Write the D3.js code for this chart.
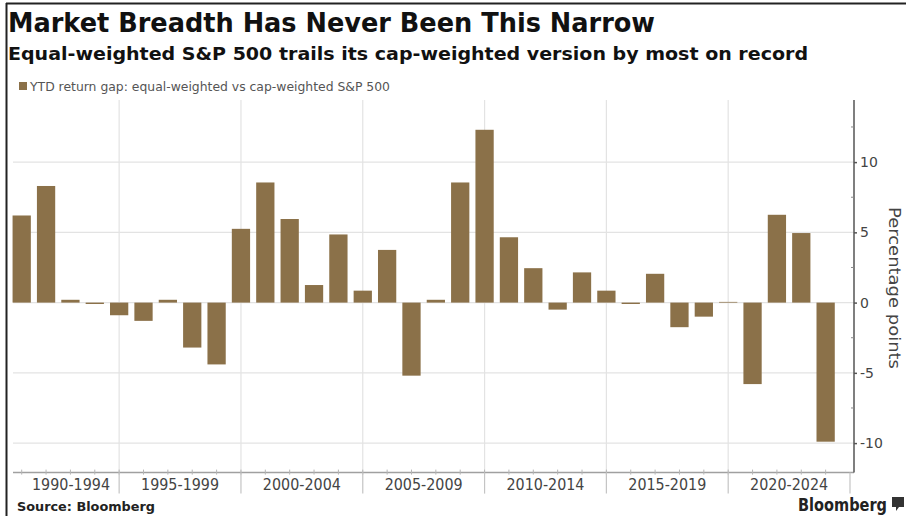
<!DOCTYPE html>
<html>
<head>
<meta charset="utf-8">
<script src="https://cdn.jsdelivr.net/npm/d3@7"></script>
<style>
  html, body { margin: 0; padding: 0; background: #fff; }
  svg { display: block; }
</style>
</head>
<body>
<svg id="chart" width="906" height="516"></svg>
<script>
// ---------- DATA ----------
const years = [1990, 1991, 1992, 1993, 1994, 1995, 1996, 1997, 1998, 1999,
               2000, 2001, 2002, 2003, 2004, 2005, 2006, 2007, 2008, 2009,
               2010, 2011, 2012, 2013, 2014, 2015, 2016, 2017, 2018, 2019,
               2020, 2021, 2022, 2023];
const gapValues = [6.2, 8.3, 0.2, -0.1, -0.9, -1.3, 0.2, -3.2, -4.4, 5.25,
                   8.55, 5.95, 1.25, 4.85, 0.85, 3.75, -5.2, 0.2, 8.55, 12.3,
                   4.65, 2.45, -0.5, 2.15, 0.85, -0.1, 2.05, -1.75, -1.0, 0.05,
                   -5.8, 6.25, 4.95, -9.9];
const groupLabels = ["1990-1994", "1995-1999", "2000-2004", "2005-2009",
                     "2010-2014", "2015-2019", "2020-2024"];
const groupStarts = [1990, 1995, 2000, 2005, 2010, 2015, 2020];
const groupEnds   = [1994, 1999, 2004, 2009, 2014, 2019, 2024];
const yTicks = [-10, -5, 0, 5, 10];
const yMinorTicks = [-7.5, -2.5, 2.5, 7.5, 12.5];

const titleText = "Market Breadth Has Never Been This Narrow";
const subtitleText = "Equal-weighted S&P 500 trails its cap-weighted version by most on record";
const legendText = "YTD return gap: equal-weighted vs cap-weighted S&P 500";
const yAxisTitle = "Percentage points";
const sourceText = "Source: Bloomberg";
const brandText = "Bloomberg";

// ---------- LAYOUT ----------
const barColor = "#8b7149";
const gridColor = "#e3e3e3";
const plotLeft = 13, plotRight = 854, plotTop = 100, plotBottom = 472.6;

const svg = d3.select("#chart");
const font = "'DejaVu Sans', Verdana, sans-serif";

const x = d3.scaleLinear().domain([1990, 2024]).range([21.7, 850]);
const y = d3.scaleLinear().domain([-12.1, 14.42]).range([plotBottom, plotTop]);
const step = x(1991) - x(1990);
const barW = step * 0.75;

function fit(sel, w) {
  const n = sel.node().getComputedTextLength();
  if (Math.abs(n - w) > 1) sel.attr("textLength", w).attr("lengthAdjust", "spacingAndGlyphs");
  return sel;
}

// frame lines
svg.append("line").attr("x1", 6.5).attr("x2", 6.5).attr("y1", 3).attr("y2", 516)
  .attr("stroke", "#222").attr("stroke-width", 2);
svg.append("line").attr("x1", 6).attr("x2", 906).attr("y1", 3.5).attr("y2", 3.5)
  .attr("stroke", "#222").attr("stroke-width", 2);

// titles
fit(svg.append("text").attr("x", 8).attr("y", 32).text(titleText)
  .attr("font-family", font).attr("font-weight", "bold").attr("font-size", 26)
  .attr("fill", "#111"), 647);
fit(svg.append("text").attr("x", 8).attr("y", 60).text(subtitleText)
  .attr("font-family", font).attr("font-weight", "bold").attr("font-size", 18)
  .attr("fill", "#111"), 800);

// legend
svg.append("rect").attr("x", 19).attr("y", 82).attr("width", 8).attr("height", 8)
  .attr("fill", barColor);
fit(svg.append("text").attr("x", 30).attr("y", 91).text(legendText)
  .attr("font-family", font).attr("font-size", 12).attr("fill", "#555"), 360);

// horizontal gridlines
svg.append("g").selectAll("line").data(yTicks).join("line")
  .attr("x1", plotLeft).attr("x2", plotRight)
  .attr("y1", d => y(d)).attr("y2", d => y(d))
  .attr("stroke", gridColor).attr("stroke-width", 1.2);

// vertical gridlines at group boundaries
const boundaries = groupEnds.slice(0, -1);
svg.append("g").selectAll("line").data(boundaries).join("line")
  .attr("x1", d => x(d)).attr("x2", d => x(d))
  .attr("y1", plotTop).attr("y2", plotBottom)
  .attr("stroke", gridColor).attr("stroke-width", 1.2);

// bars
svg.append("g").selectAll("rect").data(years).join("rect")
  .attr("x", (d) => x(d) - barW / 2)
  .attr("width", barW)
  .attr("y", (d, i) => Math.min(y(0), y(gapValues[i])))
  .attr("height", (d, i) => Math.abs(y(gapValues[i]) - y(0)))
  .attr("fill", barColor);

// bottom axis line
svg.append("line").attr("x1", plotLeft).attr("x2", plotRight)
  .attr("y1", plotBottom).attr("y2", plotBottom)
  .attr("stroke", "#a0a0a0").attr("stroke-width", 1.5);

// small ticks at each year
svg.append("g").selectAll("line").data(years).join("line")
  .attr("x1", d => x(d)).attr("x2", d => x(d))
  .attr("y1", plotBottom - 3).attr("y2", plotBottom + 2)
  .attr("stroke", "#b5b5b5").attr("stroke-width", 1);

// long ticks at group boundaries
svg.append("g").selectAll("line").data(groupEnds).join("line")
  .attr("x1", d => x(d)).attr("x2", d => x(d))
  .attr("y1", plotBottom).attr("y2", plotBottom + 21)
  .attr("stroke", "#c4c4c4").attr("stroke-width", 1.2);

// group labels
svg.append("g").selectAll("text").data(groupLabels).join("text")
  .attr("x", (d, i) => {
    const mid = i === 0 ? (x(groupStarts[i]) + x(groupEnds[i])) / 2
                        : (x(groupEnds[i - 1]) + x(groupEnds[i])) / 2;
    return Math.max(mid, plotLeft + 58);
  })
  .attr("y", 490)
  .attr("text-anchor", "middle")
  .attr("font-family", font).attr("font-size", 15).attr("fill", "#444")
  .text(d => d)
  .each(function () { fit(d3.select(this), 78); });

// right axis
const yAxis = d3.axisRight(y).tickValues(yTicks).tickSize(3).tickPadding(3)
  .tickFormat(d => d < 0 ? "-" + Math.abs(d) : String(d));
const ga = svg.append("g").attr("transform", `translate(${plotRight},0)`).call(yAxis);
ga.select(".domain").attr("stroke", "#555").attr("stroke-width", 1.5)
  .attr("d", `M0,${plotTop}V${plotBottom}`);
ga.selectAll(".tick line").attr("stroke", "#555").attr("stroke-width", 1.5);
ga.selectAll(".tick text").attr("font-family", font).attr("font-size", 14)
  .attr("fill", "#444");
svg.append("g").selectAll("line").data(yMinorTicks).join("line")
  .attr("x1", plotRight - 3).attr("x2", plotRight)
  .attr("y1", d => y(d)).attr("y2", d => y(d))
  .attr("stroke", "#888").attr("stroke-width", 1);

// y axis title
fit(svg.append("text")
  .attr("transform", `translate(889,288) rotate(90)`)
  .attr("text-anchor", "middle")
  .attr("font-family", font).attr("font-size", 15).attr("fill", "#444")
  .text(yAxisTitle), 162);

// source
fit(svg.append("text").attr("x", 17).attr("y", 511).text(sourceText)
  .attr("font-family", font).attr("font-weight", "bold").attr("font-size", 13)
  .attr("fill", "#222"), 138);

// Bloomberg brand
fit(svg.append("text").attr("x", 798).attr("y", 511).text(brandText)
  .attr("font-family", font).attr("font-weight", "bold").attr("font-size", 17)
  .attr("fill", "#222"), 89);
svg.append("path")
  .attr("d", "M892,497 h12 v10 h-5 l-3,4 v-4 h-4 z")
  .attr("fill", "#333");
</script>
</body>
</html>
